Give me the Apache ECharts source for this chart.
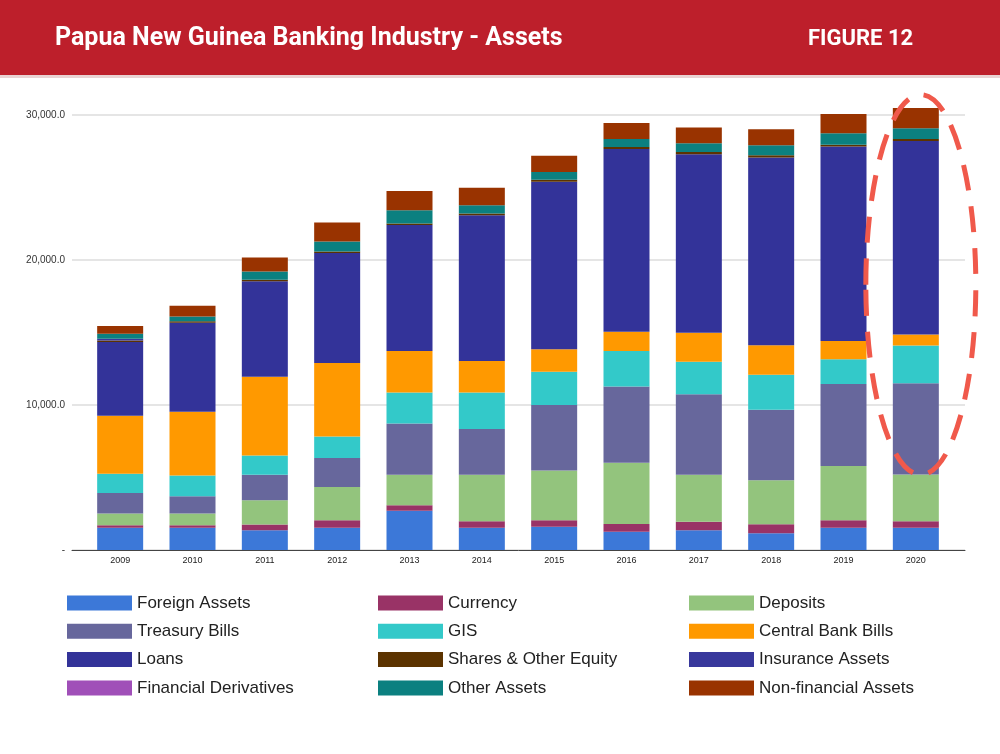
<!DOCTYPE html>
<html>
<head>
<meta charset="utf-8">
<script src="https://cdn.jsdelivr.net/npm/echarts@6/dist/echarts.min.js"></script>
<style>
html,body{margin:0;padding:0;background:#fff;}
#chart{width:1000px;height:754px;}
</style>
</head>
<body>
<div id="chart"></div>
<script>
const years = ['2009','2010','2011','2012','2013','2014','2015','2016','2017','2018','2019','2020'];
const yTicks = [0, 10000, 20000, 30000];

const foreignAssets   = [1530,1530,1370,1530,2700,1530,1600,1260,1370,1150,1530,1530];
const currency        = [180,180,390,530,390,460,460,530,570,620,530,460];
const deposits        = [800,800,1670,2290,2100,3200,3430,4230,3250,3040,3730,3220];
const treasuryBills   = [1420,1190,1760,1990,3540,3160,4510,5260,5560,4870,5650,6290];
const gis             = [1330,1440,1330,1490,2130,2520,2290,2450,2240,2400,1720,2610];
const centralBankBills= [4000,4390,5420,5060,2860,2170,1560,1330,1990,2040,1260,760];
const loans           = [5080,6140,6600,7600,8700,10050,11550,12600,12320,12950,13400,13330];
const sharesEquity    = [100,100,100,100,100,120,140,140,150,150,120,140];
const insuranceAssets = [130,0,0,0,0,0,0,0,0,0,0,0];
const finDerivatives  = [0,0,0,0,0,0,0,0,0,0,0,0];
const otherAssets     = [340,340,570,690,915,570,530,550,600,690,800,750];
const nonFinAssets    = [530,730,960,1300,1325,1210,1120,1100,1080,1100,1325,1400];

const seriesDefs = [
  ['Foreign Assets', foreignAssets, '#3c78d8'],
  ['Currency', currency, '#993366'],
  ['Deposits', deposits, '#93c47d'],
  ['Treasury Bills', treasuryBills, '#67679c'],
  ['GIS', gis, '#33c9c9'],
  ['Central Bank Bills', centralBankBills, '#ff9900'],
  ['Loans', loans, '#333399'],
  ['Shares & Other Equity', sharesEquity, '#5c3300'],
  ['Insurance Assets', insuranceAssets, '#38389c'],
  ['Financial Derivatives', finDerivatives, '#a04fb8'],
  ['Other Assets', otherAssets, '#0b8080'],
  ['Non-financial Assets', nonFinAssets, '#993300']
];

function fmt(v){
  if (v === 0) return '-';
  const s = Math.round(v).toString().replace(/\B(?=(\d{3})+(?!\d))/g, ',');
  return s + '.0';
}

const chart = echarts.init(document.getElementById('chart'), null, {renderer:'canvas'});

const legendText = {fontFamily:'"Liberation Sans", Arial, sans-serif', fontSize:17, color:'#222', lineHeight:18};
function col(left, names){
  return {
    orient:'vertical', left:left, top:594, padding:0, itemWidth:65, itemHeight:15, itemGap:10.3,
    icon:'rect', textStyle:legendText, data:names, selectedMode:false
  };
}
const names = seriesDefs.map(d => d[0]);

const headerGraphics = [
  {type:'rect', shape:{x:0, y:0, width:1000, height:75}, style:{fill:'#bd1f2b'}, z:-1},
  {type:'rect', shape:{x:0, y:75, width:1000, height:3}, style:{fill:'#e9d3d3'}, z:-1}
];

const option = {
  backgroundColor:'#ffffff',
  animation:false,
  title:[
    {text:'Papua New Guinea Banking Industry - Assets', left:55, top:26, padding:0,
     textStyle:{color:'#fff', fontSize:25, fontWeight:'bold', fontFamily:'Roboto, sans-serif'}},
    {text:'FIGURE 12', left:808, top:28, padding:0,
     textStyle:{color:'#fff', fontSize:22, fontWeight:'bold', fontFamily:'Roboto, sans-serif'}}
  ],
  legend:[
    col(67, [names[0], names[3], names[6], names[9]]),
    col(378, [names[1], names[4], names[7], names[10]]),
    col(689, [names[2], names[5], names[8], names[11]])
  ],
  grid:[
    {left:72, right:35, top:115, bottom:204},
    {left:84, right:48, top:115, bottom:204}
  ],
  xAxis:[
    {type:'value', gridIndex:0, min:0, max:1, axisLabel:{show:false}, axisTick:{show:false},
     splitLine:{show:false}, axisLine:{show:true, lineStyle:{color:'#444', width:1}}},
    {type:'category', gridIndex:1, data:years, axisLine:{show:false}, axisTick:{show:false},
     axisLabel:{fontSize:9, color:'#222', margin:6, fontFamily:'"Liberation Sans", Arial, sans-serif'}}
  ],
  yAxis:[
    {type:'value', gridIndex:0, min:yTicks[0], max:yTicks[yTicks.length-1], interval:10000,
     axisLine:{show:false}, axisTick:{show:false},
     splitLine:{lineStyle:{color:'#dcdcdc', width:1.5}},
     axisLabel:{formatter:fmt, fontSize:10, color:'#333', margin:7, fontFamily:'"Liberation Sans", Arial, sans-serif'}},
    {type:'value', gridIndex:1, min:yTicks[0], max:yTicks[yTicks.length-1], show:false, splitLine:{show:false}}
  ],
  series: seriesDefs.map(d => ({
    name:d[0], type:'bar', stack:'total', xAxisIndex:1, yAxisIndex:1,
    data:d[1], barWidth:46, clip:false, itemStyle:{color:d[2]}
  })),
  graphic: headerGraphics
};
chart.setOption(option);

// decorative dashed ellipse around the 2020 bar
const p = chart.convertToPixel({xAxisIndex:1, yAxisIndex:1}, ['2020', 18300]);
chart.setOption({
  graphic: headerGraphics.concat([
    {type:'ellipse', shape:{cx:p[0]+5, cy:p[1], rx:55, ry:190},
     style:{fill:null, stroke:'#f0594b', lineWidth:5, lineDash:[26,16]}, z:100}
  ])
});
</script>
</body>
</html>
